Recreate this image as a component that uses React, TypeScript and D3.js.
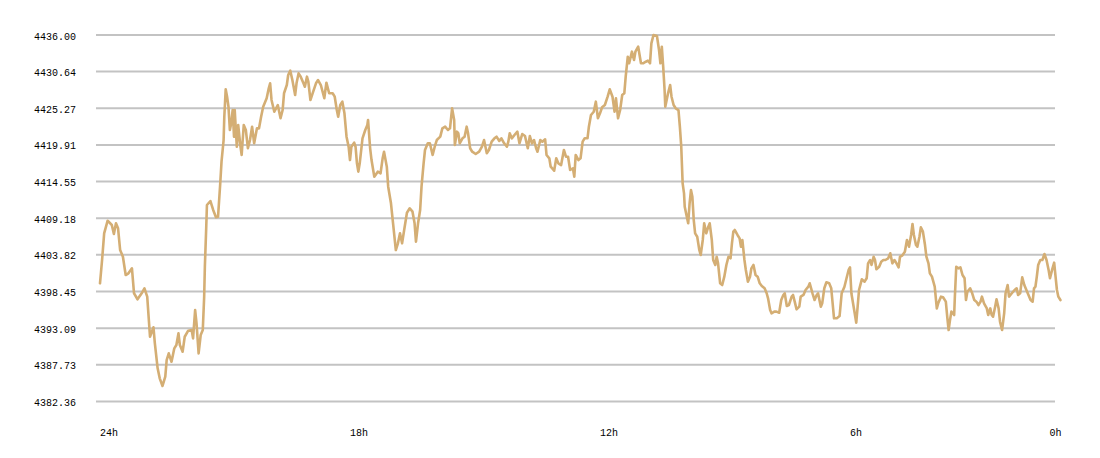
import React from "react";
import * as d3 from "d3";

// [minutes since the start of the 24h window, price]
const priceSamples: [number, number][] = [
  [0, 4399.66], [3, 4403.07], [6, 4406.97], [11, 4408.82], [17, 4408.19], [20, 4406.88], [23, 4408.44], [26, 4407.71],
  [29, 4404.53], [33, 4403.55], [37, 4400.87], [41, 4401.12], [46, 4401.85], [49, 4398.2], [54, 4397.32], [60, 4398.2],
  [64, 4398.93], [68, 4397.7], [72, 4391.84], [77, 4393.22], [79, 4390.88], [83, 4387.22], [86, 4385.75], [90, 4384.63],
  [94, 4386.0], [96, 4388.43], [99, 4389.41], [103, 4388.18], [107, 4390.14], [110, 4390.63], [113, 4392.34], [115, 4390.63],
  [119, 4389.65], [122, 4391.84], [127, 4392.72], [132, 4392.82], [134, 4391.6], [137, 4395.75], [139, 4393.8], [142, 4389.41],
  [145, 4392.09], [148, 4392.82], [150, 4397.7], [151, 4402.09], [153, 4407.94], [154, 4411.12], [159, 4411.7], [163, 4410.39],
  [167, 4409.32], [170, 4409.41], [173, 4414.05], [175, 4417.46], [178, 4420.63], [179, 4424.04], [181, 4428.05], [183, 4426.97],
  [185, 4425.51], [187, 4422.1], [189, 4423.08], [191, 4425.02], [193, 4421.12],
  [194, 4425.02], [197, 4419.65], [199, 4422.83], [202, 4419.9], [204, 4418.44], [207, 4422.83], [210, 4422.1], [213, 4419.42],
  [216, 4420.63], [219, 4422.58], [222, 4420.15], [226, 4422.34], [229, 4422.34], [232, 4424.04], [235, 4425.51], [240, 4426.74],
  [243, 4428.2], [245, 4428.93], [247, 4426.49], [251, 4424.77], [256, 4425.75], [260, 4423.81], [263, 4425.02], [265, 4427.47],
  [269, 4428.68], [271, 4430.15], [274, 4430.78], [277, 4429.41], [281, 4427.22], [283, 4428.93], [286, 4430.39], [289, 4429.9],
  [293, 4428.93], [295, 4428.43], [298, 4429.9], [300, 4429.17], [303, 4426.49], [307, 4427.7], [311, 4428.93], [314, 4429.41],
  [318, 4428.68], [323, 4426.74], [326, 4429.02], [330, 4427.47], [335, 4427.47], [338, 4426.97], [341, 4425.02], [343, 4424.04],
  [346, 4425.75], [349, 4426.24], [352, 4424.54], [355, 4421.12], [358, 4419.65], [360, 4417.7], [362, 4419.65], [366, 4420.24],
  [368, 4419.65], [370, 4417.22], [372, 4416.0], [374, 4417.22], [378, 4420.88], [382, 4422.1], [385, 4422.83], [386, 4423.56],
  [389, 4419.42], [391, 4417.7], [395, 4415.26],
  [400, 4416.0], [404, 4415.76], [407, 4417.95], [409, 4418.92], [413, 4416.73], [415, 4413.8], [419, 4411.37], [422, 4408.44],
  [426, 4404.53], [429, 4405.51], [432, 4406.97], [435, 4405.51], [438, 4407.46], [442, 4409.99], [446, 4410.64], [450, 4410.14],
  [453, 4408.44], [455, 4405.75], [458, 4408.44], [461, 4410.39], [463, 4413.8], [466, 4417.22], [468, 4419.17], [472, 4420.15],
  [475, 4420.15], [479, 4418.44], [482, 4419.65], [485, 4420.63], [490, 4421.12], [493, 4422.34], [497, 4422.58], [501, 4422.1],
  [504, 4422.34], [507, 4425.27], [510, 4423.56], [511, 4419.9], [514, 4421.85], [516, 4421.61], [518, 4420.15], [522, 4420.88],
  [525, 4421.12], [528, 4422.58], [530, 4421.61], [533, 4419.42], [536, 4418.92], [541, 4418.58], [546, 4418.92], [550, 4419.65],
  [553, 4420.63], [557, 4418.69], [560, 4419.17], [564, 4420.39], [568, 4420.88], [571, 4421.12], [575, 4420.49], [578, 4420.88],
  [582, 4420.15], [586, 4419.65], [588, 4420.39], [590, 4421.61], [593, 4420.88],
  [598, 4421.51], [601, 4421.85], [604, 4420.15], [608, 4421.51], [612, 4421.22], [616, 4419.42], [619, 4421.22], [622, 4420.15],
  [625, 4420.63], [628, 4419.42], [630, 4418.92], [634, 4420.63], [637, 4420.39], [641, 4420.73], [643, 4418.44], [647, 4417.95],
  [649, 4416.73], [654, 4416.14], [657, 4417.95], [660, 4417.22], [664, 4416.97], [668, 4419.17], [671, 4418.19], [674, 4418.19],
  [677, 4416.24], [681, 4416.49], [683, 4415.26], [685, 4418.44], [689, 4417.7], [692, 4417.95], [695, 4420.39], [698, 4420.88],
  [702, 4420.88], [704, 4422.58], [707, 4424.29], [711, 4424.77], [714, 4426.24], [717, 4423.81], [720, 4424.54], [723, 4425.42],
  [727, 4425.75], [731, 4426.97], [734, 4428.05], [738, 4426.97], [741, 4424.77], [743, 4426.74], [746, 4423.81], [749, 4425.02],
  [752, 4427.22], [755, 4427.47], [757, 4429.9], [760, 4432.82], [762, 4431.86], [766, 4433.56], [769, 4432.34], [771, 4433.56],
  [775, 4434.29], [779, 4431.86], [782, 4431.86], [786, 4432.09], [789, 4432.24], [792, 4431.86], [794, 4434.78], [797, 4436.0],
  [802, 4435.85], [805, 4433.8], [807, 4431.86], [809, 4434.29], [811, 4431.36], [813, 4427.95], [814, 4425.51], [816, 4426.49],
  [818, 4427.47], [821, 4428.68], [823, 4426.97], [826, 4425.75], [829, 4425.27], [833, 4425.02], [835, 4422.58], [837, 4419.65],
  [839, 4414.29], [841, 4412.83], [842, 4410.87], [845, 4409.41], [847, 4408.44], [849, 4411.37], [851, 4413.31], [853, 4412.33],
  [855, 4408.92], [857, 4406.97], [860, 4406.48], [863, 4404.53], [865, 4403.8], [868, 4406.0], [870, 4408.44], [873, 4406.97],
  [876, 4407.94], [878, 4408.44], [881, 4406.0], [883, 4403.07], [886, 4402.34], [888, 4403.55], [890, 4402.58], [893, 4399.66],
  [896, 4399.41], [899, 4400.63], [902, 4402.34], [905, 4403.55], [908, 4403.32], [910, 4405.51], [912, 4407.22], [914, 4407.46],
  [918, 4406.73], [921, 4406.24], [923, 4405.02], [925, 4406.0], [928, 4403.07], [930, 4401.61], [933, 4399.9], [936, 4400.63],
  [938, 4401.85], [941, 4402.34], [944, 4400.87], [947, 4400.63], [950, 4399.66], [953, 4399.26], [957, 4398.93], [960, 4398.2],
  [962, 4397.46], [965, 4395.75], [967, 4395.27], [971, 4395.51], [974, 4395.51], [978, 4395.36], [981, 4397.21], [984, 4397.95],
  [986, 4398.2], [989, 4396.34], [992, 4396.48], [996, 4397.7], [998, 4397.95],
  [1001, 4396.73], [1003, 4395.85], [1007, 4396.24], [1009, 4397.7], [1013, 4397.95], [1016, 4398.68], [1020, 4399.16], [1022, 4399.66],
  [1026, 4398.2], [1029, 4397.21], [1032, 4397.95], [1034, 4398.2], [1038, 4396.24], [1040, 4396.73], [1043, 4398.93], [1046, 4399.81],
  [1050, 4399.66], [1053, 4398.93], [1055, 4396.73], [1057, 4394.54], [1061, 4394.54], [1065, 4394.87], [1068, 4398.2], [1072, 4399.16],
  [1075, 4400.39], [1078, 4401.61], [1080, 4402.0], [1082, 4398.2], [1086, 4395.75], [1089, 4393.89], [1091, 4396.24], [1093, 4398.68],
  [1097, 4400.24], [1101, 4399.9], [1104, 4400.39], [1106, 4402.58], [1109, 4403.07], [1111, 4402.34], [1114, 4403.55], [1116, 4403.07],
  [1118, 4401.71], [1122, 4402.09], [1125, 4402.82], [1128, 4403.07], [1131, 4403.07], [1135, 4403.32], [1138, 4404.05], [1141, 4402.58],
  [1144, 4403.07], [1147, 4402.58], [1150, 4402.0], [1152, 4403.55], [1155, 4403.7], [1159, 4404.28], [1162, 4406.0], [1165, 4405.02],
  [1168, 4406.73], [1170, 4408.34], [1172, 4406.73], [1175, 4405.26], [1177, 4405.02], [1180, 4406.48], [1182, 4407.85], [1185, 4407.22],
  [1188, 4405.26], [1190, 4403.55], [1193, 4402.58], [1195, 4401.12], [1198, 4400.63],
  [1202, 4399.16], [1205, 4395.99], [1207, 4396.73], [1211, 4397.7], [1214, 4397.61], [1218, 4396.97], [1220, 4394.77], [1222, 4392.82],
  [1224, 4394.29], [1226, 4395.51], [1230, 4395.02], [1231, 4397.7], [1233, 4402.09], [1236, 4401.85], [1239, 4402.0], [1242, 4400.87],
  [1245, 4400.39], [1247, 4397.21], [1249, 4398.43], [1253, 4398.93], [1256, 4398.2], [1259, 4397.21], [1262, 4396.97], [1265, 4396.48],
  [1268, 4396.97], [1270, 4397.7], [1273, 4396.73], [1277, 4395.99], [1279, 4395.02], [1282, 4395.99], [1284, 4395.02], [1286, 4394.77],
  [1289, 4396.24], [1291, 4397.32], [1294, 4395.99], [1296, 4394.04], [1299, 4392.82], [1302, 4395.27], [1304, 4398.2], [1307, 4399.41],
  [1309, 4397.7], [1313, 4398.2], [1317, 4398.68], [1320, 4398.93], [1322, 4397.95], [1325, 4398.2], [1328, 4400.53], [1331, 4399.41],
  [1334, 4398.68], [1337, 4397.95], [1340, 4397.21], [1343, 4396.97], [1345, 4398.93], [1347, 4399.16], [1349, 4400.63], [1351, 4402.34],
  [1354, 4403.07], [1357, 4403.07], [1360, 4403.95], [1363, 4403.07], [1366, 4401.61], [1368, 4400.39], [1371, 4401.61], [1374, 4402.68],
  [1376, 4400.63], [1378, 4398.68], [1380, 4397.7], [1383, 4397.21],
];

const yTickValues = [4436.0, 4430.64, 4425.27, 4419.91, 4414.55, 4409.18, 4403.82, 4398.45, 4393.09, 4387.73, 4382.36];
const xTickMinutes = [0, 360, 720, 1080, 1440];
const xTickLabels = ["24h", "18h", "12h", "6h", "0h"];

const W = 1100;
const H = 458;
const LINE_COLOR = "#d4ae74";
const GRID_COLOR = "#c3c3c3";
const FONT = "'Liberation Mono', 'DejaVu Sans Mono', monospace";

export default function App() {
  const x = d3.scaleLinear().domain([0, 1440]).range([100, 1100]);
  const y = d3.scaleLinear().domain([4382.36, 4436.0]).range([401.5, 35]);
  const gridLeft = 96;
  const gridRight = 1055;
  const lastX = x(priceSamples[priceSamples.length - 1][0]);

  const line = d3
    .line<[number, number]>()
    .x((d) => x(d[0]))
    .y((d) => y(d[1]));

  return (
    <svg
      width={W}
      height={H}
      viewBox={`0 0 ${W} ${H}`}
      style={{ position: "absolute", left: 0, top: 0, background: "#fff" }}
    >
      <rect x={0} y={0} width={W} height={H} fill="#fff" />
      <g>
        {yTickValues.map((v) => (
          <g key={v}>
            <line x1={gridLeft} x2={gridRight} y1={y(v)} y2={y(v)} stroke={GRID_COLOR} strokeWidth={2} />
            <text x={76} y={y(v) + 4.5} textAnchor="end" fontFamily={FONT} fontSize={10} fill="#000">
              {v.toFixed(2)}
            </text>
          </g>
        ))}
      </g>
      <path
        d={line(priceSamples) || ""}
        fill="none"
        stroke={LINE_COLOR}
        strokeWidth={2.6}
        strokeLinejoin="round"
        strokeLinecap="round"
      />
      <g>
        {xTickMinutes.map((m, i) => {
          const px = x(m);
          const overflow = px > lastX;
          return (
            <text
              key={m}
              x={overflow ? lastX + 1 : px}
              y={436}
              textAnchor={overflow ? "end" : "start"}
              fontFamily={FONT}
              fontSize={10}
              fill="#000"
            >
              {xTickLabels[i]}
            </text>
          );
        })}
      </g>
    </svg>
  );
}
